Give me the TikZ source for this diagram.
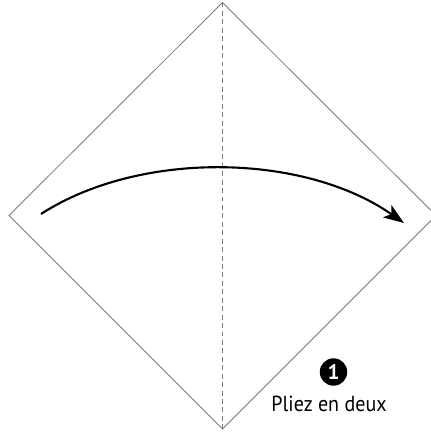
\documentclass[tikz,border=0pt]{standalone}
\usepackage{fontspec}
\setmainfont{PT Sans}
\usetikzlibrary{arrows.meta}
\definecolor{crease}{HTML}{7C7C7C}

\begin{document}
\begin{tikzpicture}[x=0.025cm,y=-0.025cm]
  \useasboundingbox (0,0) rectangle (430,435);
  % corners of the square sheet
  \coordinate (top) at (222.5,2.5);
  \coordinate (left) at (9,215.5);
  \coordinate (bottom) at (222.5,429);
  \coordinate (right) at (436,215.5);
  \draw[crease,line width=0.6pt] (top) -- (left) -- (bottom) -- (right) -- cycle;
  \draw[crease,line width=0.6pt,dash pattern=on 3.5pt off 2.5pt] (top) -- (bottom);
  % fold arrow
  \coordinate (start) at (41,214);
  \coordinate (end) at (404,223);
  \draw[line width=1.5pt,-{Stealth[length=14.5pt,width=10.5pt,inset=3.5pt]}] (start) .. controls (140,150) and (304,153) .. (end);
  % step label
  \node[circle,fill=black,text=white,inner sep=0pt,minimum size=19.5pt,font=\bfseries\fontsize{15}{16}\selectfont] (num) at (333.5,372) {1};
  \node[anchor=base,font=\fontsize{15.5}{17}\selectfont,xscale=0.92,transform shape] (step) at (329,411) {Pliez en deux};
\end{tikzpicture}
\end{document}
